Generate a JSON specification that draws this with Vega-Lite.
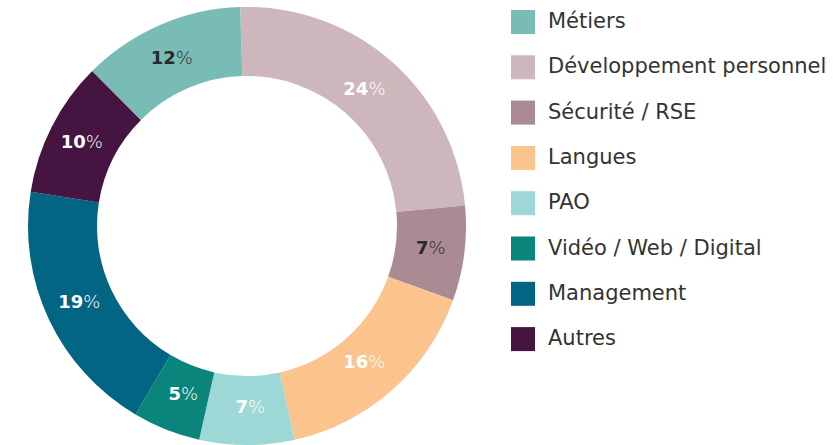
{
  "$schema": "https://vega.github.io/schema/vega-lite/v6.json",
  "width": 494,
  "height": 452,
  "padding": 0,
  "background": "white",
  "config": {"view": {"stroke": null}},
  "data": {"values": [
    {"cat": "Développement personnel", "value": 24, "order": 1},
    {"cat": "Sécurité / RSE", "value": 7, "order": 2},
    {"cat": "Langues", "value": 16, "order": 3},
    {"cat": "PAO", "value": 7, "order": 4},
    {"cat": "Vidéo / Web / Digital", "value": 5, "order": 5},
    {"cat": "Management", "value": 19, "order": 6},
    {"cat": "Autres", "value": 10, "order": 7},
    {"cat": "Métiers", "value": 12, "order": 8}
  ]},
  "encoding": {
    "theta": {"field": "value", "type": "quantitative", "stack": true, "scale": {"range": [-0.031, 6.252]}},
    "order": {"field": "order", "type": "quantitative"}
  },
  "layer": [
    {
      "mark": {"type": "arc", "innerRadius": 150, "outerRadius": 219},
      "encoding": {
        "color": {
          "field": "cat", "type": "nominal",
          "scale": {
            "domain": ["Métiers", "Développement personnel", "Sécurité / RSE", "Langues", "PAO", "Vidéo / Web / Digital", "Management", "Autres"],
            "range": ["#79bcb6", "#cdb7bc", "#aa8a93", "#fbc48d", "#9dd8d7", "#0a857b", "#026583", "#451440"]
          },
          "legend": {
            "title": null,
            "orient": "none",
            "legendX": 511,
            "legendY": 10,
            "symbolType": "square",
            "symbolSize": 576,
            "symbolStrokeWidth": 0,
            "rowPadding": 21.3,
            "labelOffset": 13,
            "labelFont": "DejaVu Sans",
            "labelFontSize": 21,
            "labelColor": "#333333",
            "labelLimit": 400
          }
        }
      }
    },
    {
      "mark": {"type": "text", "radius": 182, "align": "right", "baseline": "middle", "dx": 1, "font": "DejaVu Sans", "fontWeight": "bold", "fontSize": 18},
      "encoding": {
        "text": {"field": "value", "type": "quantitative"},
        "color": {"condition": {"test": "datum.cat === 'Métiers' || datum.cat === 'Sécurité / RSE'", "value": "#2a2a2a"}, "value": "white"}
      }
    },
    {
      "mark": {"type": "text", "radius": 182, "align": "left", "baseline": "middle", "dx": 1, "font": "DejaVu Sans", "fontWeight": 300, "fontSize": 18},
      "encoding": {
        "text": {"value": "%"},
        "color": {"condition": {"test": "datum.cat === 'Métiers' || datum.cat === 'Sécurité / RSE'", "value": "#2a2a2a"}, "value": "white"}
      }
    }
  ]
}
